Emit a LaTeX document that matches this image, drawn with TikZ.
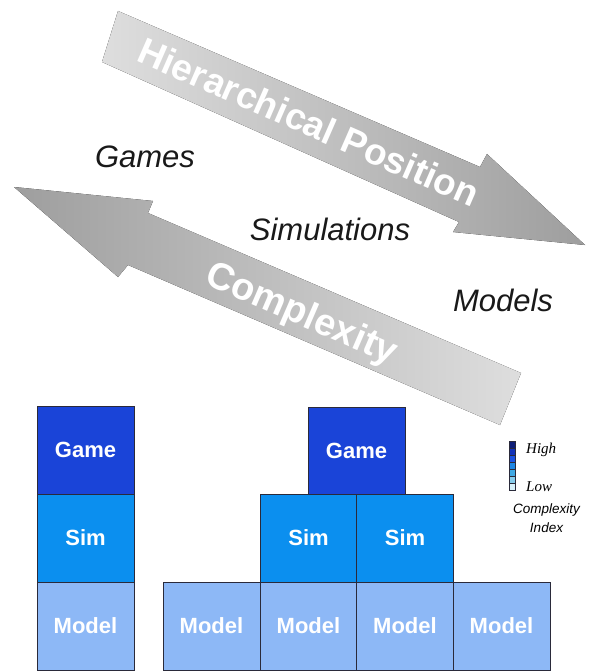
\documentclass[tikz,border=0pt]{standalone}
\usepackage{fontspec}
\setmainfont{Liberation Sans}
\newfontfamily\serifit{Liberation Serif}
\definecolor{gamec}{HTML}{1A44D8}
\definecolor{simc}{HTML}{0B8FEF}
\definecolor{modelc}{HTML}{8DB8F6}
\definecolor{edgec}{HTML}{2A2A3A}
\definecolor{arrdark}{HTML}{9E9E9E}
\definecolor{arrlight}{HTML}{DEDEDE}
\definecolor{lg1}{HTML}{0E1E78}
\definecolor{lg2}{HTML}{1232B8}
\definecolor{lg3}{HTML}{1A52E2}
\definecolor{lg4}{HTML}{1C86E4}
\definecolor{lg5}{HTML}{3EA8E4}
\definecolor{lg6}{HTML}{86CCEC}
\definecolor{lg7}{HTML}{D6F0FA}
\begin{document}
\begin{tikzpicture}[x=1pt,y=-1pt,
  blk/.style={draw=edgec,line width=0.8pt,minimum width=97pt,minimum height=88pt,
    inner sep=0pt,outer sep=0pt,text=white,font=\fontsize{22}{24}\selectfont\bfseries},
  gamebox/.style={blk,fill=gamec},
  simbox/.style={blk,fill=simc},
  modelbox/.style={blk,fill=modelc},
  lvl/.style={font=\fontsize{31}{34}\selectfont\itshape,text=black!90},
  arrtext/.style={text=white,font=\bfseries,inner sep=0pt},
  legseg/.style={draw=edgec,line width=0.4pt,minimum width=6pt,minimum height=7.1pt,inner sep=0pt,outer sep=0pt}
]
\useasboundingbox (0,0) rectangle (589,671);
% Hierarchical Position arrow
\fill[left color=arrlight,right color=arrdark]
  (118,11) -- (480,167) -- (487,154) -- (585,245) -- (453,232) -- (459,222) -- (102,62) -- cycle;
\node[arrtext,rotate=-23.6,font=\fontsize{37}{40}\selectfont\bfseries] (hp) at (309,122) {Hierarchical Position};
% Complexity arrow
\fill[left color=arrdark,right color=arrlight]
  (14,187) -- (153,201) -- (148,213) -- (521,373) -- (500,425) -- (128,265) -- (118,277) -- cycle;
\node[arrtext,rotate=-23.4,font=\fontsize{38}{40}\selectfont\bfseries] (cx) at (301,315) {Complexity};
% level labels
\node[lvl] (games) at (145,157) {Games};
\node[lvl] (sims) at (330,229) {Simulations};
\node[lvl] (models) at (503,300) {Models};
% left column
\node[gamebox] (g1) at (85.5,450) {Game};
\node[simbox] (s1) at (85.5,538) {Sim};
\node[modelbox] (m1) at (85.5,626) {Model};
% right pyramid
\node[gamebox] (g2) at (356.5,451) {Game};
\node[simbox] (s2) at (308.5,538) {Sim};
\node[simbox] (s3) at (405,538) {Sim};
\node[modelbox] (m2) at (211.5,626) {Model};
\node[modelbox] (m3) at (308.5,626) {Model};
\node[modelbox] (m4) at (405,626) {Model};
\node[modelbox] (m5) at (501.5,626) {Model};
% legend
\node[legseg,fill=lg1] (l1) at (512,444.5) {};
\node[legseg,fill=lg2,anchor=north] (l2) at (l1.south) {};
\node[legseg,fill=lg3,anchor=north] (l3) at (l2.south) {};
\node[legseg,fill=lg4,anchor=north] (l4) at (l3.south) {};
\node[legseg,fill=lg5,anchor=north] (l5) at (l4.south) {};
\node[legseg,fill=lg6,anchor=north] (l6) at (l5.south) {};
\node[legseg,fill=lg7,anchor=north] (l7) at (l6.south) {};
\node[anchor=west,inner sep=0pt,font=\fontsize{15}{16}\selectfont\serifit\itshape] (hi) at (526,450) {High};
\node[anchor=west,inner sep=0pt,font=\fontsize{15}{16}\selectfont\serifit\itshape] (lo) at (526,487) {Low};
\node[inner sep=0pt,align=center,font=\fontsize{13.5}{19}\selectfont\itshape] (ci) at (546.5,518) {Complexity\\Index};
\end{tikzpicture}
\end{document}
